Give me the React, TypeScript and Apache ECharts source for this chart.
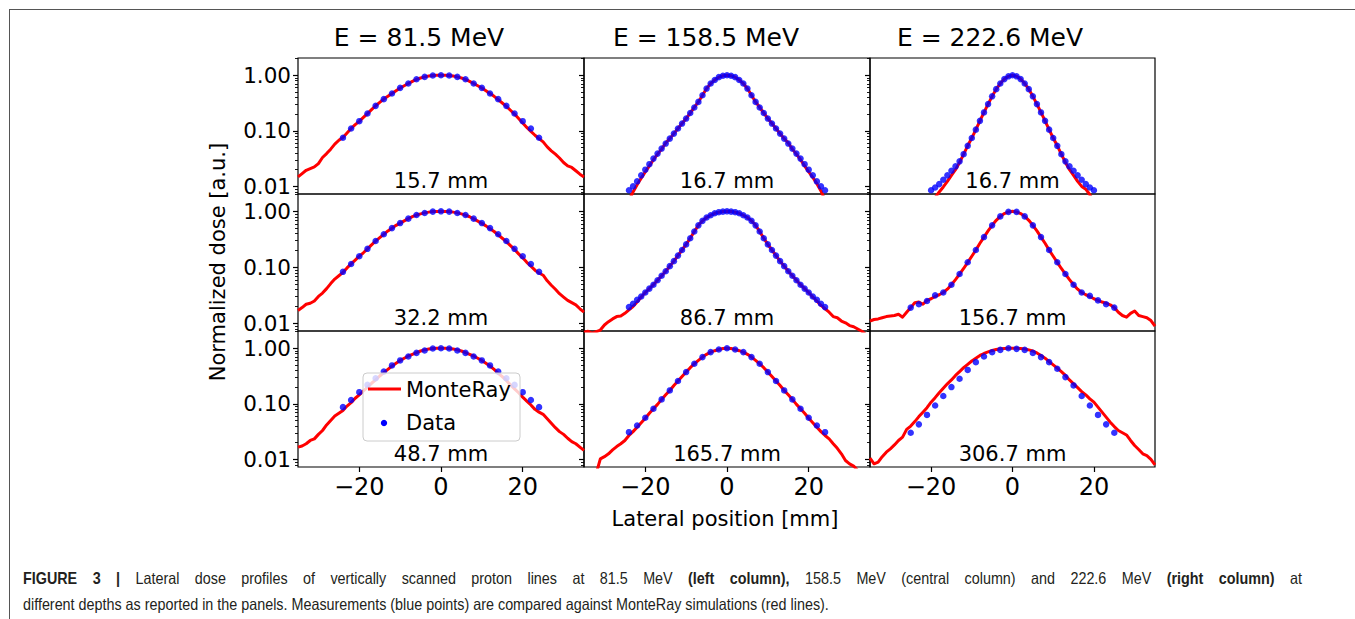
import React, { useEffect, useRef } from "react";
import * as echarts from "echarts";

// ---------- x positions (mm) ----------
const X71 = [-35,-34,-33,-32,-31,-30,-29,-28,-27,-26,-25,-24,-23,-22,-21,-20,-19,-18,-17,-16,-15,-14,-13,-12,-11,-10,-9,-8,-7,-6,-5,-4,-3,-2,-1,0,1,2,3,4,5,6,7,8,9,10,11,12,13,14,15,16,17,18,19,20,21,22,23,24,25,26,27,28,29,30,31,32,33,34,35];
const X51 = [-25,-24,-23,-22,-21,-20,-19,-18,-17,-16,-15,-14,-13,-12,-11,-10,-9,-8,-7,-6,-5,-4,-3,-2,-1,0,1,2,3,4,5,6,7,8,9,10,11,12,13,14,15,16,17,18,19,20,21,22,23,24,25];
const X45 = [-22,-21,-20,-19,-18,-17,-16,-15,-14,-13,-12,-11,-10,-9,-8,-7,-6,-5,-4,-3,-2,-1,0,1,2,3,4,5,6,7,8,9,10,11,12,13,14,15,16,17,18,19,20,21,22];
const XEVEN = [-24,-22,-20,-18,-16,-14,-12,-10,-8,-6,-4,-2,0,2,4,6,8,10,12,14,16,18,20,22,24];
const X49 = [-24,-23,-22,-21,-20,-19,-18,-17,-16,-15,-14,-13,-12,-11,-10,-9,-8,-7,-6,-5,-4,-3,-2,-1,0,1,2,3,4,5,6,7,8,9,10,11,12,13,14,15,16,17,18,19,20,21,22,23,24];
const X41 = [-20,-19,-18,-17,-16,-15,-14,-13,-12,-11,-10,-9,-8,-7,-6,-5,-4,-3,-2,-1,0,1,2,3,4,5,6,7,8,9,10,11,12,13,14,15,16,17,18,19,20];
const XODD = [-25,-23,-21,-19,-17,-15,-13,-11,-9,-7,-5,-3,-1,1,3,5,7,9,11,13,15,17,19,21,23,25];

// ---------- MonteRay (red lines) ----------
const monteRay_81_15 = [0.0148,0.0170,0.0195,0.0209,0.0224,0.0257,0.0331,0.0389,0.0468,0.0575,0.0676,0.0759,0.0912,0.110,0.129,0.148,0.174,0.204,0.240,0.282,0.324,0.372,0.417,0.468,0.525,0.589,0.646,0.708,0.776,0.841,0.891,0.933,0.966,0.986,0.995,1.0,0.995,0.986,0.966,0.933,0.891,0.841,0.776,0.708,0.646,0.589,0.525,0.468,0.417,0.363,0.316,0.275,0.234,0.200,0.166,0.138,0.115,0.0977,0.0832,0.0724,0.0631,0.0513,0.0437,0.0380,0.0324,0.0269,0.0234,0.0219,0.0191,0.0166,0.0148];
const monteRay_158_16 = [0.00398,0.00562,0.00794,0.0107,0.0141,0.0182,0.0234,0.0302,0.0380,0.0468,0.0603,0.0724,0.0891,0.110,0.135,0.166,0.209,0.263,0.331,0.437,0.575,0.708,0.822,0.923,0.977,1.0,0.977,0.923,0.822,0.708,0.575,0.437,0.331,0.263,0.209,0.166,0.135,0.110,0.0891,0.0724,0.0603,0.0468,0.0380,0.0302,0.0234,0.0182,0.0145,0.0112,0.0083,0.00562,0.00398];
const monteRay_222_16 = [0.00251,0.00355,0.00479,0.00631,0.00794,0.00977,0.0123,0.0158,0.0200,0.0269,0.0380,0.0537,0.0741,0.105,0.151,0.214,0.302,0.417,0.562,0.708,0.851,0.955,1.0,0.955,0.851,0.708,0.562,0.417,0.302,0.214,0.151,0.105,0.0741,0.0537,0.0380,0.0269,0.0200,0.0158,0.0123,0.0100,0.00891,0.00708,0.00525,0.00380,0.00263];
const monteRay_81_32 = [0.0170,0.0191,0.0219,0.0229,0.0251,0.0302,0.0347,0.0417,0.0513,0.0617,0.0708,0.0813,0.0977,0.115,0.135,0.158,0.182,0.214,0.251,0.295,0.339,0.389,0.447,0.501,0.562,0.617,0.676,0.741,0.804,0.859,0.902,0.938,0.968,0.989,0.998,1.0,0.998,0.989,0.968,0.938,0.902,0.855,0.800,0.733,0.668,0.610,0.550,0.490,0.437,0.380,0.331,0.288,0.245,0.209,0.174,0.148,0.123,0.105,0.0891,0.0794,0.0724,0.0575,0.0479,0.0407,0.0339,0.0295,0.0257,0.0234,0.0214,0.0182,0.0158];
const monteRay_158_86 = [0.00692,0.00724,0.00661,0.00708,0.00759,0.00933,0.0107,0.0120,0.0132,0.0135,0.0151,0.0174,0.0200,0.0240,0.0295,0.0355,0.0417,0.0490,0.0589,0.0708,0.0851,0.105,0.129,0.162,0.204,0.257,0.331,0.437,0.562,0.676,0.776,0.851,0.923,0.966,0.989,1.0,0.989,0.966,0.923,0.851,0.776,0.676,0.562,0.437,0.331,0.257,0.204,0.162,0.129,0.105,0.0851,0.0708,0.0589,0.0490,0.0417,0.0355,0.0295,0.0251,0.0209,0.0182,0.0158,0.0132,0.0126,0.0110,0.0102,0.00912,0.00871,0.00794,0.00724,0.00631,0.00562];
const monteRay_222_156 = [0.0110,0.0117,0.0120,0.0126,0.0132,0.0135,0.0138,0.0145,0.0129,0.0158,0.0191,0.0234,0.0240,0.0219,0.0257,0.0275,0.0302,0.0324,0.0355,0.0407,0.0490,0.0603,0.0759,0.0955,0.123,0.158,0.204,0.269,0.347,0.447,0.562,0.692,0.813,0.912,0.977,1.0,0.977,0.912,0.813,0.692,0.562,0.447,0.347,0.269,0.204,0.158,0.123,0.0955,0.0759,0.0603,0.0490,0.0407,0.0355,0.0324,0.0302,0.0275,0.0257,0.0240,0.0229,0.0214,0.0191,0.0158,0.0138,0.0129,0.0151,0.0166,0.0138,0.0132,0.0126,0.0112,0.00891];
const monteRay_81_48 = [0.0166,0.0174,0.0191,0.0219,0.0234,0.0282,0.0331,0.0417,0.0501,0.0603,0.0676,0.0759,0.0912,0.105,0.126,0.145,0.170,0.200,0.234,0.269,0.316,0.363,0.417,0.479,0.537,0.603,0.661,0.724,0.776,0.832,0.891,0.933,0.966,0.986,0.998,1.0,0.998,0.986,0.966,0.933,0.891,0.832,0.776,0.724,0.661,0.603,0.537,0.479,0.417,0.355,0.309,0.263,0.219,0.186,0.158,0.132,0.112,0.0955,0.0794,0.0708,0.0646,0.0537,0.0447,0.0372,0.0316,0.0282,0.0240,0.0209,0.0191,0.0166,0.0145];
const monteRay_158_165 = [0.00355,0.00447,0.00398,0.00562,0.0102,0.0112,0.0126,0.0148,0.0170,0.0191,0.0219,0.0269,0.0316,0.0380,0.0457,0.0550,0.0676,0.0813,0.0977,0.120,0.145,0.174,0.214,0.257,0.309,0.372,0.447,0.525,0.603,0.692,0.776,0.851,0.902,0.946,0.986,1.0,0.986,0.946,0.902,0.851,0.776,0.692,0.603,0.525,0.447,0.372,0.309,0.257,0.214,0.174,0.145,0.120,0.0977,0.0813,0.0676,0.0550,0.0457,0.0380,0.0316,0.0269,0.0234,0.0191,0.0158,0.0126,0.00955,0.00832,0.00759,0.00631,0.00447,0.00398,0.00316];
const monteRay_222_306 = [0.0105,0.00832,0.00891,0.0112,0.0135,0.0155,0.0182,0.0219,0.0251,0.0347,0.0398,0.0479,0.0589,0.0708,0.0851,0.107,0.129,0.158,0.191,0.229,0.269,0.324,0.380,0.447,0.513,0.589,0.661,0.741,0.804,0.861,0.912,0.951,0.977,0.991,0.998,1.0,0.995,0.986,0.966,0.933,0.891,0.822,0.741,0.661,0.575,0.501,0.437,0.380,0.324,0.269,0.229,0.195,0.166,0.145,0.123,0.107,0.0871,0.0708,0.0575,0.0468,0.0389,0.0331,0.0302,0.0275,0.0219,0.0178,0.0151,0.0126,0.0117,0.0100,0.00794];

// ---------- Measurements (blue points) ----------
const data_81_15 = [0.075,0.110,0.149,0.205,0.281,0.371,0.469,0.592,0.708,0.847,0.933,0.990,1.0,0.990,0.933,0.847,0.708,0.592,0.469,0.371,0.281,0.205,0.149,0.110,0.075];
const data_158_16 = [0.00851,0.0100,0.0123,0.0158,0.0200,0.0251,0.0316,0.0389,0.0479,0.0589,0.0724,0.0891,0.110,0.135,0.166,0.209,0.263,0.331,0.437,0.575,0.708,0.822,0.923,0.977,1.0,0.977,0.923,0.822,0.708,0.575,0.437,0.331,0.263,0.209,0.166,0.135,0.110,0.0891,0.0724,0.0589,0.0479,0.0389,0.0316,0.0251,0.0200,0.0158,0.0123,0.0100,0.00851];
const data_222_16 = [0.00851,0.00955,0.0110,0.0132,0.0158,0.0191,0.0229,0.0282,0.0380,0.0537,0.0741,0.105,0.151,0.214,0.302,0.417,0.562,0.708,0.851,0.955,1.0,0.955,0.851,0.708,0.562,0.417,0.302,0.214,0.151,0.105,0.0741,0.0537,0.0380,0.0282,0.0229,0.0191,0.0158,0.0132,0.0110,0.00955,0.00851];
const data_81_32 = [0.0832,0.115,0.158,0.214,0.295,0.389,0.502,0.617,0.741,0.859,0.933,0.989,1.0,0.989,0.933,0.859,0.741,0.617,0.502,0.389,0.295,0.214,0.158,0.115,0.0832];
const data_158_86 = [0.0195,0.0224,0.0263,0.0302,0.0355,0.0417,0.0490,0.0589,0.0708,0.0851,0.105,0.129,0.162,0.204,0.257,0.331,0.437,0.562,0.676,0.776,0.851,0.923,0.966,0.989,1.0,0.989,0.966,0.923,0.851,0.776,0.676,0.562,0.437,0.331,0.257,0.204,0.162,0.129,0.105,0.0851,0.0708,0.0589,0.0490,0.0417,0.0355,0.0302,0.0263,0.0224,0.0195];
const data_222_156 = [0.0191,0.0219,0.0251,0.0316,0.0355,0.0490,0.0759,0.123,0.204,0.347,0.562,0.813,0.977,0.977,0.813,0.562,0.347,0.204,0.123,0.0759,0.0490,0.0355,0.0309,0.0257,0.0219,0.0191];
const data_81_48 = [0.0871,0.117,0.162,0.219,0.288,0.380,0.490,0.603,0.708,0.824,0.908,0.986,1.0,0.986,0.908,0.824,0.708,0.603,0.490,0.380,0.288,0.219,0.162,0.117,0.0871];
const data_158_165 = [0.0309,0.0407,0.0562,0.0813,0.120,0.174,0.257,0.372,0.525,0.692,0.851,0.946,1.0,0.946,0.851,0.692,0.525,0.372,0.257,0.174,0.120,0.0813,0.0562,0.0407,0.0309];
const data_222_306 = [0.0302,0.0427,0.0631,0.0933,0.138,0.200,0.282,0.407,0.562,0.708,0.847,0.933,1.0,0.973,0.933,0.824,0.692,0.562,0.427,0.302,0.214,0.138,0.0933,0.0631,0.0427,0.0302];

// ---------- labels / ticks ----------
const energyTitles = ["E = 81.5 MeV", "E = 158.5 MeV", "E = 222.6 MeV"];
const depthLabels = ["15.7 mm", "16.7 mm", "16.7 mm", "32.2 mm", "86.7 mm", "156.7 mm", "48.7 mm", "165.7 mm", "306.7 mm"];
const yMajorTicks = [0.01, 0.1, 1];
const yMinorTicks = [0.008, 0.009, 0.02, 0.03, 0.04, 0.05, 0.06, 0.07, 0.08, 0.09, 0.2, 0.3, 0.4, 0.5, 0.6, 0.7, 0.8, 0.9, 2];
const xTicks = [-20, 0, 20];
// caption: [word, bold]
const captionLine1: [string, boolean][] = [
  ["FIGURE", true], ["3", true], ["|", true], ["Lateral", false], ["dose", false], ["profiles", false], ["of", false],
  ["vertically", false], ["scanned", false], ["proton", false], ["lines", false], ["at", false], ["81.5", false], ["MeV", false],
  ["(left", true], ["column),", true], ["158.5", false], ["MeV", false], ["(central", false], ["column)", false], ["and", false],
  ["222.6", false], ["MeV", false], ["(right", true], ["column)", true], ["at", false],
];
const captionLine2 = "different depths as reported in the panels. Measurements (blue points) are compared against MonteRay simulations (red lines).";

const panels = [
  { row: 0, col: 0, lx: X71, ly: monteRay_81_15, dx: XEVEN, dy: data_81_15 },
  { row: 0, col: 1, lx: X51, ly: monteRay_158_16, dx: X49, dy: data_158_16 },
  { row: 0, col: 2, lx: X45, ly: monteRay_222_16, dx: X41, dy: data_222_16 },
  { row: 1, col: 0, lx: X71, ly: monteRay_81_32, dx: XEVEN, dy: data_81_32 },
  { row: 1, col: 1, lx: X71, ly: monteRay_158_86, dx: X49, dy: data_158_86 },
  { row: 1, col: 2, lx: X71, ly: monteRay_222_156, dx: XODD, dy: data_222_156 },
  { row: 2, col: 0, lx: X71, ly: monteRay_81_48, dx: XEVEN, dy: data_81_48 },
  { row: 2, col: 1, lx: X71, ly: monteRay_158_165, dx: XEVEN, dy: data_158_165 },
  { row: 2, col: 2, lx: X71, ly: monteRay_222_306, dx: XODD, dy: data_222_306 },
];

// ---------- layout ----------
const FONT = "DejaVu Sans";
const CAP_FONT = "Liberation Sans";
const CAP_SIZE = 16.5;
const CAP_SCALE = 0.87;
const CAP_LEFT = 23;
const CAP_RIGHT = 1302;
const COL_LEFT = [298, 584, 870];
const COL_WIDTH = [286, 286, 285];
const ROW_TOP = [58, 194, 331];
const ROW_HEIGHT = [136, 137, 136];
const TITLE_X = [419, 706, 990];
const Y_MIN = 0.0073;
const Y_MAX = 2.04;

const fmtX = (v: number) => (v < 0 ? "\u2212" + Math.abs(v) : String(v));

export default function App() {
  const ref = useRef<HTMLDivElement>(null);
  useEffect(() => {
    const chart = echarts.init(ref.current as HTMLDivElement, null, { renderer: "svg" });
    const grid: any[] = [];
    const xAxis: any[] = [];
    const yAxis: any[] = [];
    const series: any[] = [];
    panels.forEach((p, i) => {
      grid.push({
        left: COL_LEFT[p.col], top: ROW_TOP[p.row], width: COL_WIDTH[p.col], height: ROW_HEIGHT[p.row],
        show: true, borderColor: "#000", borderWidth: 1.2, backgroundColor: "transparent",
      });
      const bottom = p.row === 2;
      xAxis.push({
        gridIndex: i, type: "value", min: -35, max: 35, position: "bottom",
        axisLine: { show: false, onZero: false }, splitLine: { show: false },
        axisTick: { show: bottom, customValues: xTicks, length: 5, lineStyle: { color: "#000", width: 1.2 } },
        axisLabel: { show: bottom, customValues: xTicks, formatter: fmtX, fontSize: 24, fontFamily: FONT, color: "#000", margin: 8 },
      });
      yAxis.push({
        gridIndex: i, type: "log", logBase: 10, min: Y_MIN, max: Y_MAX, position: "left",
        axisLine: { show: false, onZero: false }, splitLine: { show: false },
        axisTick: { show: true, customValues: yMajorTicks, length: 5, lineStyle: { color: "#000", width: 1.2 } },
        axisLabel: {
          show: p.col === 0, customValues: yMajorTicks, formatter: (v: number) => Number(v).toFixed(2),
          fontSize: 21.5, lineHeight: 20, fontFamily: FONT, color: "#000", margin: 7,
        },
      });
    });
    panels.forEach((p, i) => {
      yAxis.push({
        gridIndex: i, type: "log", logBase: 10, min: Y_MIN, max: Y_MAX, position: "left", offset: 0,
        axisLine: { show: false, onZero: false }, splitLine: { show: false },
        axisTick: { show: true, customValues: yMinorTicks, length: 3, lineStyle: { color: "#000", width: 0.9 } },
        axisLabel: { show: false },
      });
    });
    panels.forEach((p, i) => {
      series.push({
        type: "line", name: "MonteRay", xAxisIndex: i, yAxisIndex: i,
        data: p.lx.map((x, k) => [x, p.ly[k]]),
        symbol: "none", showSymbol: false, clip: true, z: 2, silent: true,
        lineStyle: { color: "#ff0000", width: 3, join: "round" }, itemStyle: { color: "#ff0000" },
      });
      series.push({
        type: "scatter", name: "Data", xAxisIndex: i, yAxisIndex: i,
        data: p.dx.map((x, k) => [x, p.dy[k]]),
        symbolSize: 6.5, clip: true, z: 3, silent: true,
        itemStyle: { color: "#0000ff" },
      });
    });

    const elements: any[] = [];
    // frame
    elements.push({ type: "line", shape: { x1: 9, y1: 9.5, x2: 1355, y2: 9.5 }, style: { stroke: "#555", lineWidth: 1 } });
    elements.push({ type: "line", shape: { x1: 9.5, y1: 9, x2: 9.5, y2: 619 }, style: { stroke: "#555", lineWidth: 1 } });
    energyTitles.forEach((t, c) => {
      elements.push({ type: "text", x: TITLE_X[c], y: 37, style: { text: t, fontSize: 25, fontFamily: FONT, fill: "#000", align: "center", verticalAlign: "middle" } });
    });
    panels.forEach((p, i) => {
      elements.push({
        type: "text", x: COL_LEFT[p.col] + COL_WIDTH[p.col] / 2, y: ROW_TOP[p.row] + ROW_HEIGHT[p.row] - 13.5, z: 50,
        style: { text: depthLabels[i], fontSize: 21, fontFamily: FONT, fill: "#000", align: "center", verticalAlign: "middle" },
      });
    });
    elements.push({
      type: "text", x: 218, y: 262, rotation: Math.PI / 2,
      style: { text: "Normalized dose [a.u.]", fontSize: 21, fontFamily: FONT, fill: "#000", align: "center", verticalAlign: "middle" },
    });
    elements.push({
      type: "text", x: 725, y: 519,
      style: { text: "Lateral position [mm]", fontSize: 21, fontFamily: FONT, fill: "#000", align: "center", verticalAlign: "middle" },
    });
    // legend
    elements.push({ type: "rect", z: 100, shape: { x: 363, y: 373, width: 157, height: 68, r: 4 }, style: { fill: "rgba(255,255,255,0.8)", stroke: "#cccccc", lineWidth: 1 } });
    elements.push({ type: "line", z: 101, shape: { x1: 368, y1: 389, x2: 401, y2: 389 }, style: { stroke: "#ff0000", lineWidth: 3 } });
    elements.push({ type: "circle", z: 101, shape: { cx: 384, cy: 423, r: 3.2 }, style: { fill: "#0000ff" } });
    elements.push({ type: "text", z: 101, x: 406, y: 390, style: { text: "MonteRay", fontSize: 21, fontFamily: FONT, fill: "#000", align: "left", verticalAlign: "middle" } });
    elements.push({ type: "text", z: 101, x: 406, y: 423, style: { text: "Data", fontSize: 21, fontFamily: FONT, fill: "#000", align: "left", verticalAlign: "middle" } });

    // caption, line 1 justified across the figure width
    const canvas = document.createElement("canvas");
    const ctx = canvas.getContext("2d") as CanvasRenderingContext2D;
    const widths = captionLine1.map(([w, b]) => {
      ctx.font = `${b ? "bold " : ""}${CAP_SIZE}px "${CAP_FONT}"`;
      return ctx.measureText(w).width * CAP_SCALE;
    });
    const total = widths.reduce((a, b) => a + b, 0);
    const gap = (CAP_RIGHT - CAP_LEFT - total) / (captionLine1.length - 1);
    let cx = CAP_LEFT;
    captionLine1.forEach(([w, b], k) => {
      elements.push({
        type: "text", x: cx, y: 578, scaleX: CAP_SCALE,
        style: { text: w, fontSize: CAP_SIZE, fontFamily: CAP_FONT, fontWeight: b ? "bold" : "normal", fill: "#231f20", align: "left", verticalAlign: "middle" },
      });
      cx += widths[k] + gap;
    });
    elements.push({
      type: "text", x: CAP_LEFT, y: 604, scaleX: CAP_SCALE,
      style: { text: captionLine2, fontSize: CAP_SIZE, fontFamily: CAP_FONT, fill: "#231f20", align: "left", verticalAlign: "middle" },
    });

    chart.setOption({
      animation: false,
      backgroundColor: "#fff",
      grid, xAxis, yAxis, series,
      graphic: { elements },
    });
    return () => chart.dispose();
  }, []);
  return <div ref={ref} style={{ position: "fixed", left: 0, top: 0, width: 1355, height: 619 }} />;
}
